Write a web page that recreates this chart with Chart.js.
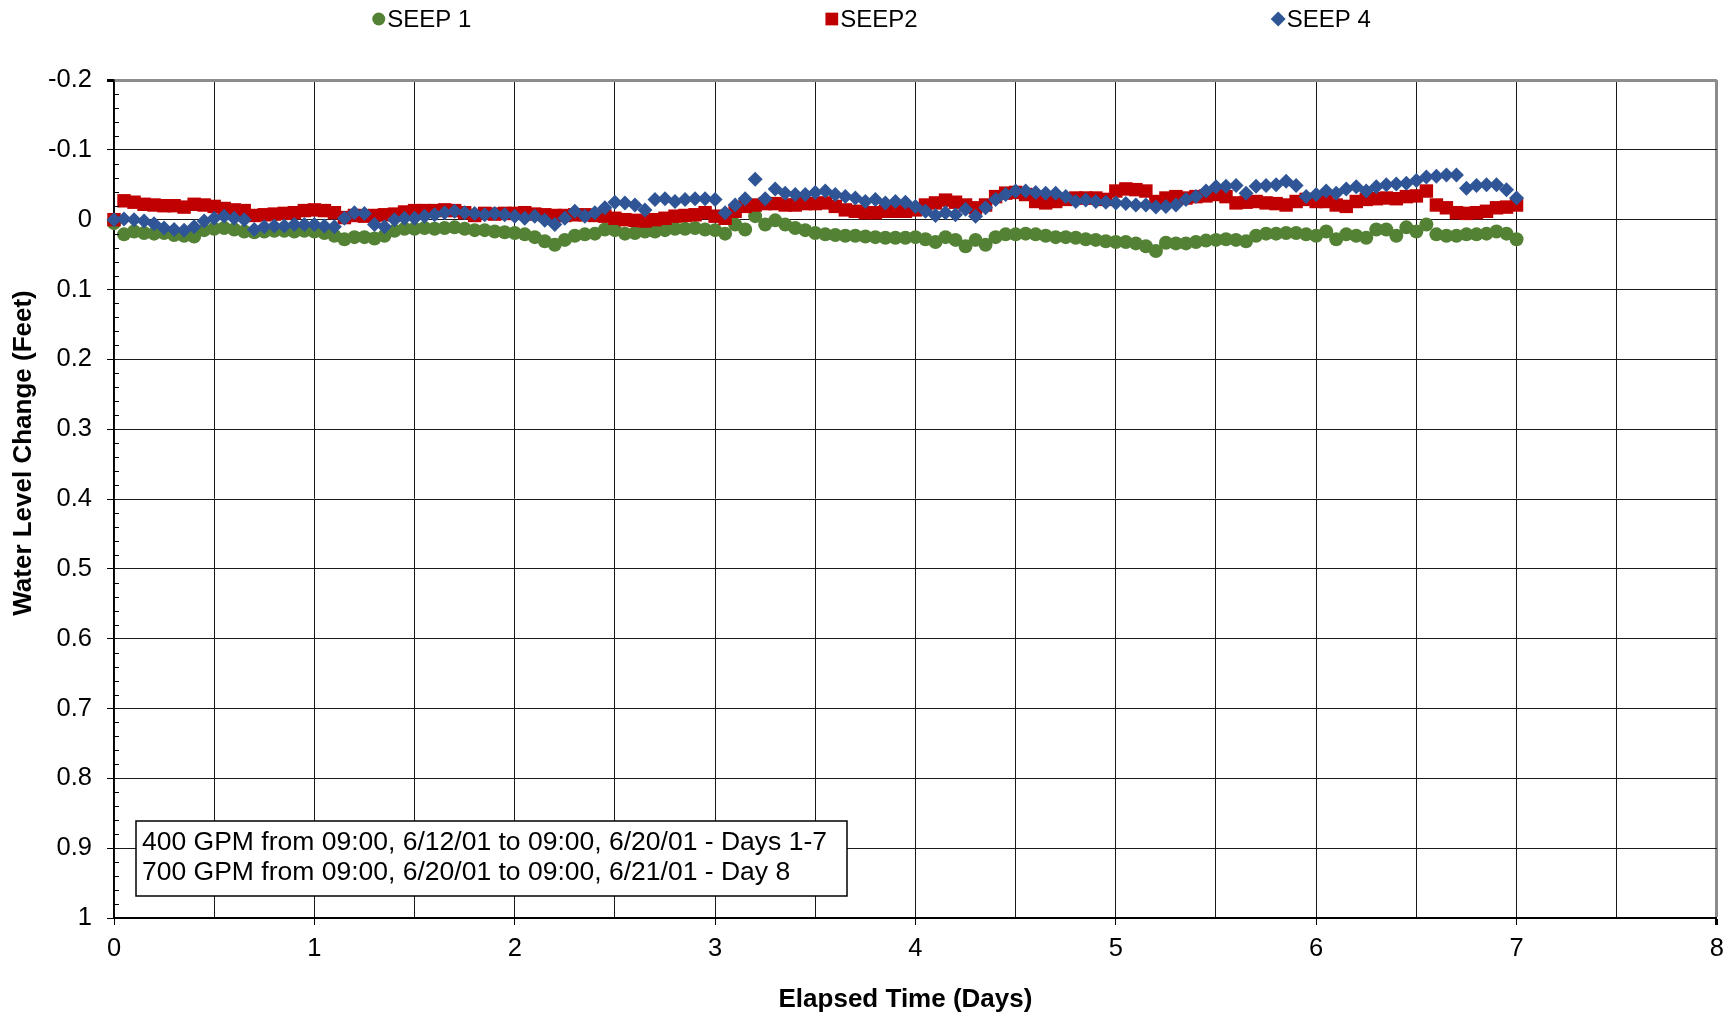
<!DOCTYPE html>
<html>
<head>
<meta charset="utf-8">
<title>Seep Water Level Change</title>
<script src="https://cdn.jsdelivr.net/npm/chart.js"></script>
<style>
  html, body { margin: 0; padding: 0; background: #fff; }
  canvas { display: block; }
</style>
</head>
<body>
<canvas id="seepChart" width="1733" height="1018"></canvas>
<script>
// elapsed time (days), one reading every 0.05 day
const days = [
  0, 0.05, 0.1, 0.15, 0.2, 0.25, 0.3, 0.35, 0.4, 0.45, 0.5, 0.55, 0.6, 0.65, 0.7, 0.75, 0.8, 0.85, 0.9, 0.95,
  1, 1.05, 1.1, 1.15, 1.2, 1.25, 1.3, 1.35, 1.4, 1.45, 1.5, 1.55, 1.6, 1.65, 1.7, 1.75, 1.8, 1.85, 1.9, 1.95,
  2, 2.05, 2.1, 2.15, 2.2, 2.25, 2.3, 2.35, 2.4, 2.45, 2.5, 2.55, 2.6, 2.65, 2.7, 2.75, 2.8, 2.85, 2.9, 2.95,
  3, 3.05, 3.1, 3.15, 3.2, 3.25, 3.3, 3.35, 3.4, 3.45, 3.5, 3.55, 3.6, 3.65, 3.7, 3.75, 3.8, 3.85, 3.9, 3.95,
  4, 4.05, 4.1, 4.15, 4.2, 4.25, 4.3, 4.35, 4.4, 4.45, 4.5, 4.55, 4.6, 4.65, 4.7, 4.75, 4.8, 4.85, 4.9, 4.95,
  5, 5.05, 5.1, 5.15, 5.2, 5.25, 5.3, 5.35, 5.4, 5.45, 5.5, 5.55, 5.6, 5.65, 5.7, 5.75, 5.8, 5.85, 5.9, 5.95,
  6, 6.05, 6.1, 6.15, 6.2, 6.25, 6.3, 6.35, 6.4, 6.45, 6.5, 6.55, 6.6, 6.65, 6.7, 6.75, 6.8, 6.85, 6.9, 6.95, 7
];

const seep1 = [
  0.005, 0.021, 0.017, 0.019, 0.020, 0.019, 0.022, 0.023, 0.024, 0.015, 0.013, 0.012, 0.014, 0.017, 0.018, 0.017, 0.016, 0.016, 0.017, 0.016,
  0.017, 0.019, 0.023, 0.028, 0.025, 0.025, 0.027, 0.023, 0.016, 0.013, 0.013, 0.012, 0.013, 0.012, 0.011, 0.013, 0.015, 0.015, 0.017, 0.018,
  0.019, 0.021, 0.025, 0.031, 0.036, 0.029, 0.023, 0.021, 0.020, 0.014, 0.015, 0.020, 0.019, 0.017, 0.017, 0.015, 0.013, 0.013, 0.012, 0.014,
  0.015, 0.020, 0.007, 0.014, -0.005, 0.007, 0.001, 0.007, 0.012, 0.015, 0.019, 0.021, 0.022, 0.023, 0.023, 0.024, 0.025, 0.026, 0.026, 0.026,
  0.025, 0.028, 0.032, 0.025, 0.029, 0.038, 0.029, 0.036, 0.025, 0.021, 0.021, 0.020, 0.021, 0.023, 0.025, 0.025, 0.026, 0.028, 0.029, 0.031,
  0.032, 0.032, 0.034, 0.038, 0.045, 0.033, 0.034, 0.034, 0.032, 0.030, 0.029, 0.028, 0.029, 0.031, 0.023, 0.020, 0.020, 0.019, 0.019, 0.021,
  0.023, 0.017, 0.028, 0.021, 0.023, 0.026, 0.014, 0.014, 0.023, 0.011, 0.017, 0.007, 0.021, 0.023, 0.023, 0.021, 0.021, 0.020, 0.017, 0.020, 0.028
];

const seep2 = [
  0.000, -0.027, -0.025, -0.022, -0.021, -0.020, -0.020, -0.018, -0.022, -0.021, -0.019, -0.016, -0.014, -0.013, -0.006, -0.007, -0.008, -0.009, -0.010, -0.013,
  -0.014, -0.013, -0.010, -0.003, -0.006, -0.005, -0.006, -0.007, -0.008, -0.011, -0.013, -0.013, -0.013, -0.014, -0.013, -0.010, -0.006, -0.009, -0.008, -0.009,
  -0.009, -0.010, -0.008, -0.007, -0.006, -0.006, -0.007, -0.007, -0.006, -0.005, -0.002, 0.000, 0.001, 0.002, 0.000, -0.002, -0.005, -0.006, -0.007, -0.010,
  -0.005, -0.002, -0.012, -0.019, -0.021, -0.023, -0.023, -0.021, -0.021, -0.023, -0.023, -0.024, -0.019, -0.014, -0.012, -0.010, -0.010, -0.012, -0.012, -0.012,
  -0.014, -0.021, -0.024, -0.028, -0.025, -0.021, -0.017, -0.021, -0.033, -0.038, -0.039, -0.036, -0.026, -0.024, -0.026, -0.029, -0.031, -0.031, -0.031, -0.029,
  -0.041, -0.044, -0.043, -0.041, -0.026, -0.031, -0.033, -0.031, -0.033, -0.034, -0.036, -0.033, -0.024, -0.025, -0.026, -0.024, -0.023, -0.021, -0.026, -0.029,
  -0.026, -0.026, -0.021, -0.019, -0.026, -0.029, -0.030, -0.031, -0.030, -0.033, -0.034, -0.041, -0.021, -0.017, -0.010, -0.009, -0.010, -0.012, -0.017, -0.018, -0.021
];

const seep4 = [
  0.000, -0.001, 0.000, 0.002, 0.006, 0.012, 0.014, 0.015, 0.010, 0.002, -0.002, -0.005, -0.002, 0.000, 0.014, 0.010, 0.009, 0.009, 0.007, 0.007,
  0.007, 0.009, 0.010, -0.002, -0.010, -0.009, 0.007, 0.010, 0.000, -0.002, -0.002, -0.005, -0.007, -0.010, -0.012, -0.010, -0.009, -0.007, -0.009, -0.007,
  -0.005, -0.002, -0.005, 0.001, 0.007, -0.002, -0.012, -0.005, -0.010, -0.017, -0.025, -0.024, -0.021, -0.014, -0.029, -0.030, -0.026, -0.029, -0.030, -0.030,
  -0.029, -0.010, -0.021, -0.030, -0.058, -0.030, -0.044, -0.038, -0.036, -0.036, -0.039, -0.041, -0.036, -0.033, -0.031, -0.026, -0.029, -0.024, -0.026, -0.025,
  -0.019, -0.012, -0.006, -0.010, -0.007, -0.015, -0.005, -0.017, -0.029, -0.036, -0.041, -0.041, -0.039, -0.038, -0.038, -0.033, -0.026, -0.028, -0.026, -0.025,
  -0.024, -0.023, -0.021, -0.021, -0.018, -0.019, -0.021, -0.029, -0.033, -0.041, -0.047, -0.048, -0.049, -0.038, -0.048, -0.049, -0.050, -0.055, -0.049, -0.033,
  -0.036, -0.041, -0.038, -0.044, -0.047, -0.041, -0.047, -0.050, -0.051, -0.052, -0.056, -0.061, -0.062, -0.064, -0.064, -0.045, -0.049, -0.050, -0.050, -0.043, -0.031
];

const seriesNames = ["SEEP 1", "SEEP2", "SEEP 4"];
const xTitle = "Elapsed Time (Days)";
const yTitle = "Water Level Change (Feet)";
const noteLines = [
  "400 GPM from 09:00, 6/12/01 to 09:00, 6/20/01 - Days 1-7",
  "700 GPM from 09:00, 6/20/01 to 09:00, 6/21/01 - Day 8"
];

const FONT = "'Liberation Sans', Arial, Helvetica, sans-serif";
Chart.defaults.font.family = FONT;
Chart.defaults.color = "#000";

const toPoints = vals => vals.map((v, i) => ({ x: days[i], y: v }));
const isTenth = v => Math.abs(v * 10 - Math.round(v * 10)) < 1e-6;
const clear = "rgba(0,0,0,0)";

// legend across the top, spaced like the original
const topLegend = {
  id: "topLegend",
  afterDraw(chart) {
    const ctx = chart.ctx;
    const sizes = [6.5, 9, 7.5];
    ctx.save();
    ctx.font = "24px " + FONT;
    ctx.textBaseline = "middle";
    const gap = 354, mark = 13, space = 2;
    const widths = chart.data.datasets.map(ds => mark + space + ctx.measureText(ds.label).width);
    const total = widths.reduce((a, b) => a + b, 0) + gap * (widths.length - 1);
    let x = (chart.width - total) / 2 + 5;
    const y = 19;
    chart.data.datasets.forEach((ds, i) => {
      ctx.fillStyle = ds.pointBackgroundColor;
      Chart.helpers.drawPoint(ctx, { pointStyle: ds.pointStyle, radius: sizes[i], borderWidth: 0, rotation: 0 }, x + mark / 2, y);
      ctx.fillStyle = "#000";
      ctx.fillText(ds.label, x + mark + space, y + 1);
      x += widths[i] + gap;
    });
    ctx.restore();
  }
};

// axis titles (placed a little off-centre, as in the original), inside minor ticks, note box
const extras = {
  id: "extras",
  afterDatasetsDraw(chart) {
    const ctx = chart.ctx;
    const yScale = chart.scales.y;
    const { left, right, top, bottom } = chart.chartArea;
    ctx.save();
    ctx.strokeStyle = "#000";
    ctx.lineWidth = 1;
    yScale.ticks.forEach(t => {
      if (isTenth(t.value)) return;
      const py = Math.round(yScale.getPixelForValue(t.value)) + 0.5;
      ctx.beginPath();
      ctx.moveTo(left, py);
      ctx.lineTo(left + 5, py);
      ctx.stroke();
    });

    const bx = left + 22, by = bottom - 97, bw = 711, bh = 75;
    ctx.fillStyle = "#fff";
    ctx.fillRect(bx, by, bw, bh);
    ctx.lineWidth = 1.5;
    ctx.strokeRect(bx, by, bw, bh);
    ctx.fillStyle = "#000";
    ctx.font = "26.5px " + FONT;
    ctx.textBaseline = "alphabetic";
    ctx.fillText(noteLines[0], bx + 6, by + 29);
    ctx.fillText(noteLines[1], bx + 6, by + 59);
    ctx.restore();
  },
  afterDraw(chart) {
    const ctx = chart.ctx;
    const { left, right, top, bottom } = chart.chartArea;
    ctx.save();
    ctx.fillStyle = "#000";
    ctx.font = "bold 26px " + FONT;
    ctx.textAlign = "center";
    ctx.textBaseline = "middle";
    ctx.fillText(xTitle, (left + right) / 2 - 10, chart.height - 18);
    ctx.translate(24, (top + bottom) / 2 - 46);
    ctx.rotate(-Math.PI / 2);
    ctx.fillText(yTitle, 0, 0);
    ctx.restore();
  }
};

new Chart(document.getElementById("seepChart"), {
  type: "scatter",
  data: {
    datasets: [
      { label: seriesNames[0], data: toPoints(seep1), pointStyle: "circle", pointRadius: 7,
        pointBackgroundColor: "#548235", pointBorderWidth: 0, order: 3, clip: false },
      { label: seriesNames[1], data: toPoints(seep2), pointStyle: "rect", pointRadius: 9.5,
        pointBackgroundColor: "#C00000", pointBorderWidth: 0, order: 2, clip: false },
      { label: seriesNames[2], data: toPoints(seep4), pointStyle: "rectRot", pointRadius: 7.5,
        pointBackgroundColor: "#2F5597", pointBorderWidth: 0, order: 1, clip: false }
    ]
  },
  options: {
    responsive: false,
    devicePixelRatio: 1,
    animation: false,
    layout: { padding: { top: 80, right: 14, left: 0, bottom: 0 } },
    plugins: {
      legend: { display: false },
      tooltip: { enabled: false }
    },
    scales: {
      x: {
        type: "linear",
        min: 0,
        max: 8,
        afterFit: s => { s.height = 100; },
        border: { color: "#000", width: 2 },
        grid: {
          color: c => (c.tick && c.tick.value > 7.99) ? "#8c8c8c" : "#1a1a1a",
          lineWidth: c => (c.tick && c.tick.value > 7.99) ? 3 : 1,
          tickColor: c => (c.tick && Number.isInteger(c.tick.value)) ? "#000" : clear,
          tickLength: 7
        },
        ticks: {
          stepSize: 0.5,
          autoSkip: false,
          maxRotation: 0,
          padding: 9,
          font: { size: 25.5 },
          callback: v => Number.isInteger(v) ? String(v) : ""
        }
      },
      y: {
        reverse: true,
        min: -0.2,
        max: 1,
        afterFit: s => { s.width = 114; },
        border: { color: "#000", width: 1.5 },
        grid: {
          color: c => {
            if (!c.tick || !isTenth(c.tick.value)) return clear;
            return c.tick.value < -0.19 ? "#8c8c8c" : "#1a1a1a";
          },
          lineWidth: c => (c.tick && c.tick.value < -0.19) ? 3 : 1,
          tickColor: c => (c.tick && isTenth(c.tick.value)) ? "#000" : clear,
          tickLength: 7
        },
        ticks: {
          stepSize: 0.02,
          autoSkip: false,
          padding: 15,
          font: { size: 25.5 },
          callback: v => isTenth(v) ? String(Math.round(v * 10) / 10) : ""
        }
      }
    }
  },
  plugins: [topLegend, extras]
});
</script>
</body>
</html>
